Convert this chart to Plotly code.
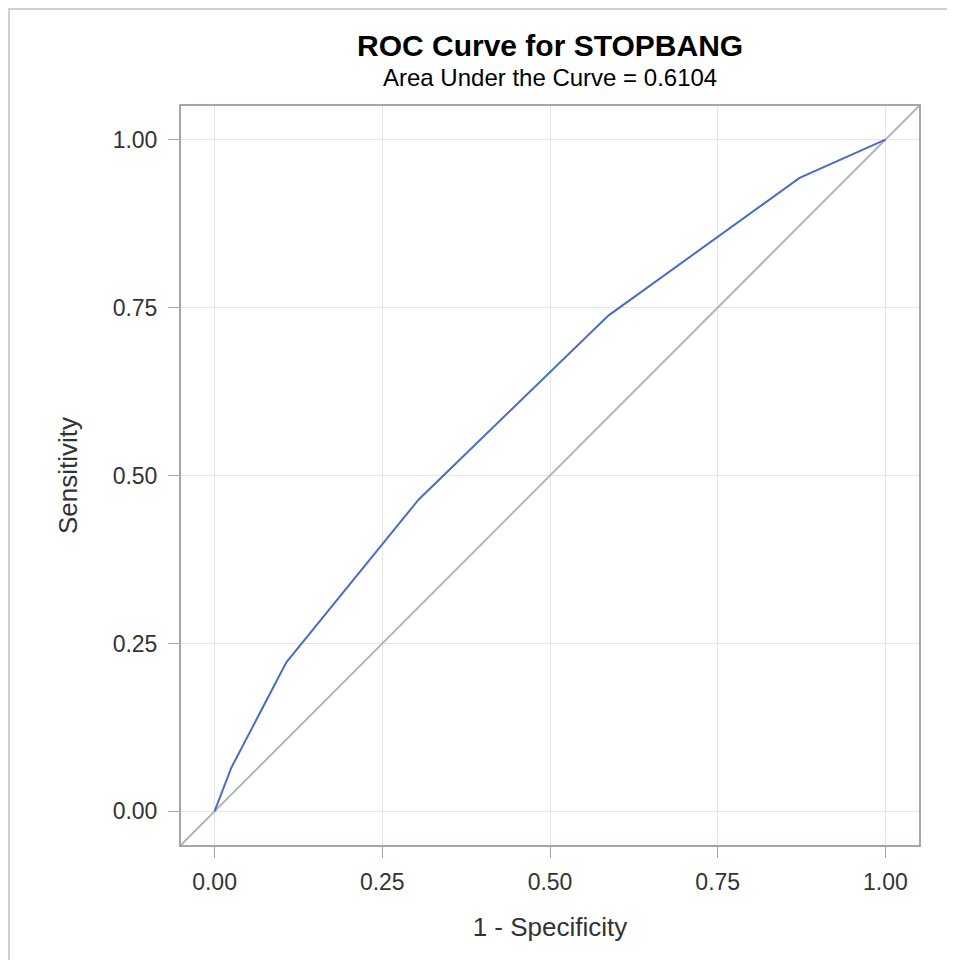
import plotly.graph_objects as go

# ROC curve points (1 - specificity, sensitivity)
fpr = [0.0, 0.025, 0.107, 0.304, 0.587, 0.872, 1.0]
tpr = [0.0, 0.065, 0.222, 0.464, 0.738, 0.943, 1.0]
tick_vals = [0.0, 0.25, 0.5, 0.75, 1.0]
tick_text = ["0.00", "0.25", "0.50", "0.75", "1.00"]
axis_range = [-0.05, 1.05]

font_family = "Liberation Sans, Arial, sans-serif"
axis_color = "#a3a7ab"
grid_color = "#e6e6e6"
text_color = "#333333"

W, H = 947, 952
L, R, T, B = 173, 36, 98, 115
PW, PH = W - L - R, H - T - B

fig = go.Figure()
fig.add_trace(go.Scatter(
    x=axis_range, y=axis_range, mode="lines",
    line=dict(color="#b3b6b6", width=2), hoverinfo="skip", showlegend=False,
))
fig.add_trace(go.Scatter(
    x=fpr, y=tpr, mode="lines",
    line=dict(color="#4a6cc6", width=2), showlegend=False,
))

axis_common = dict(
    range=axis_range, tickvals=tick_vals, ticktext=tick_text,
    showgrid=True, gridcolor=grid_color, gridwidth=1,
    showline=True, linecolor=axis_color, linewidth=2, mirror=True,
    ticks="outside", ticklen=11, tickcolor=axis_color, tickwidth=1,
    tickfont=dict(family=font_family, size=23, color=text_color),
    zeroline=False,
)

fig.update_layout(
    width=W, height=H,
    paper_bgcolor="white", plot_bgcolor="white",
    margin=dict(l=L, r=R, t=T, b=B),
    xaxis=dict(**axis_common, ticklabelstandoff=4,
               title=dict(text="1 - Specificity", standoff=24,
                          font=dict(family=font_family, size=26, color=text_color))),
    yaxis=dict(**axis_common, ticklabelstandoff=6,
               title=dict(text="Sensitivity", standoff=28,
                          font=dict(family=font_family, size=26, color=text_color))),
    annotations=[
        dict(text="<b>ROC Curve for STOPBANG</b>", xref="paper", yref="paper",
             x=0.5, y=1.0, yshift=61, showarrow=False, xanchor="center", yanchor="middle",
             font=dict(family=font_family, size=30, color="black")),
        dict(text="Area Under the Curve = 0.6104", xref="paper", yref="paper",
             x=0.5, y=1.0, yshift=29, showarrow=False, xanchor="center", yanchor="middle",
             font=dict(family=font_family, size=24, color="black")),
    ],
    shapes=[
        dict(type="rect", xref="paper", yref="paper",
             x0=(1 - L) / PW, x1=(944 - L) / PW, y0=-(B + 5) / PH, y1=1 + (T - 1) / PH,
             line=dict(color="#d0d0d0", width=2), fillcolor="rgba(0,0,0,0)", layer="below"),
    ],
)

fig.write_html("out.html")
